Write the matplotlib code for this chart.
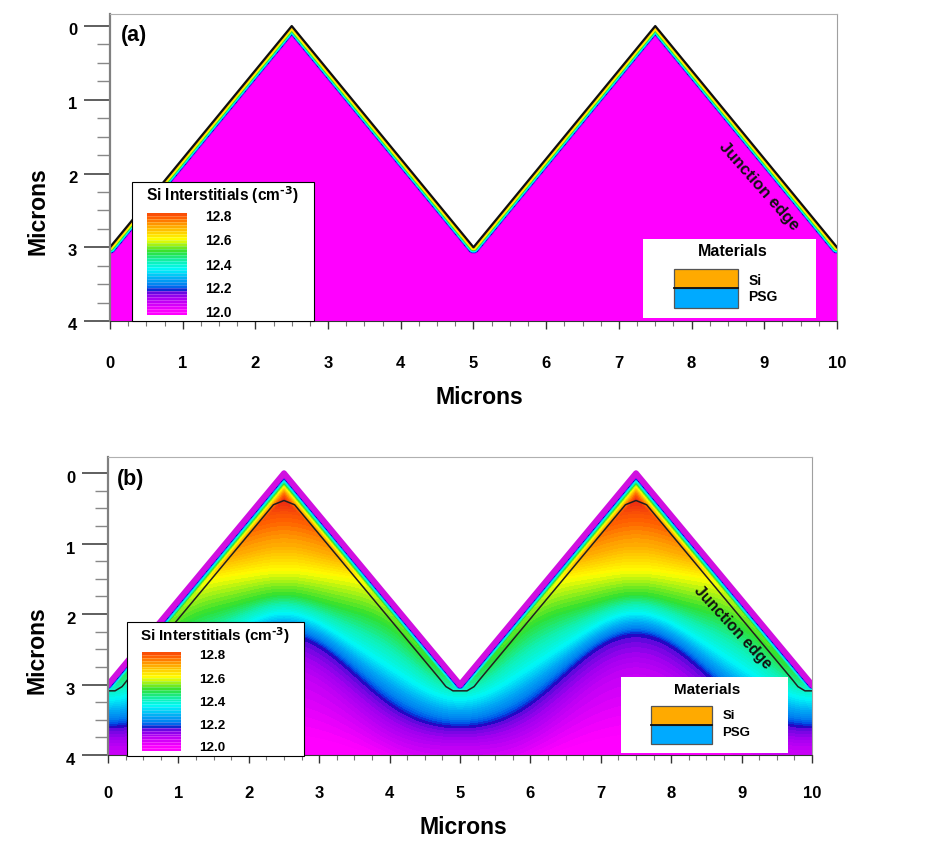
import numpy as np
import matplotlib
matplotlib.use('Agg')
from matplotlib import pyplot as plt
from matplotlib.colors import LinearSegmentedColormap
from matplotlib.patches import Rectangle
from matplotlib.transforms import ScaledTranslation

plt.rcParams['font.family'] = ['Liberation Sans', 'DejaVu Sans']
plt.rcParams['font.weight'] = 'bold'
plt.rcParams['mathtext.default'] = 'regular'

W, H = 945, 860

# surface of the textured silicon
surf_x = [0, 2.5, 5, 7.5, 10]
surf_y = [3, 0, 3, 0, 3]

# colour scale, log10 concentration
scale_vals = [12.0, 12.06, 12.12, 12.155, 12.17, 12.19, 12.22, 12.27, 12.35, 12.42, 12.5, 12.6, 12.72, 12.78, 12.85]
scale_cols = ['#FF00FF', '#D000F8', '#A000F0', '#6808E0', '#1808C0', '#0050E8', '#0080F0', '#00A8F4',
              '#00F8F8', '#10F0B0', '#30E030', '#FFFF00', '#FFA000', '#FF6000', '#F03010']
levels = np.arange(12.0, 12.851, 0.0125)
legend_ticks = ['12.8', '12.6', '12.4', '12.2', '12.0']

# (b) depth of each level, read at distances from the peak
dist_peak = [0, 0.5, 1.0, 1.5, 2.0, 2.5]
iso_vals = [12.85, 12.8, 12.7, 12.6, 12.5, 12.35, 12.17, 12.08, 12.0, 11.95]
iso_depth = [[0.45, 0.50, 0.80, 1.20, 1.70, 2.00],
             [0.60, 0.65, 0.95, 1.30, 1.80, 2.20],
             [1.05, 1.10, 1.25, 1.50, 2.00, 2.40],
             [1.38, 1.42, 1.50, 1.75, 2.25, 2.60],
             [1.72, 1.80, 1.95, 2.15, 2.60, 2.85],
             [1.98, 2.12, 2.42, 2.75, 3.05, 3.20],
             [2.30, 2.40, 2.85, 3.25, 3.50, 3.60],
             [2.80, 2.95, 3.35, 3.70, 3.85, 3.90],
             [3.70, 3.75, 3.90, 4.10, 4.30, 4.40],
             [4.60, 4.60, 4.70, 4.80, 4.90, 5.00]]

# value against distance from the surface
ramp_s_a = [0.0, 0.025, 0.04, 0.055, 0.07, 0.085]
ramp_v_a = [12.72, 12.6, 12.5, 12.35, 12.17, 12.0]
ramp_s_b = [0.0, 0.045, 0.06, 0.08, 0.105, 0.13, 0.17, 0.24]
ramp_v_b = [12.02, 12.06, 12.17, 12.35, 12.5, 12.6, 12.72, 12.85]

# (b) junction line
junc_x = [0, 0.1, 0.2, 0.28, 2.35, 2.5, 2.65, 4.72, 4.8, 4.9, 5.0,
          5.1, 5.2, 5.28, 7.35, 7.5, 7.65, 9.72, 9.8, 9.9, 10]
junc_y = [3.09, 3.09, 3.03, 2.93, 0.45, 0.39, 0.45, 2.93, 3.03, 3.09, 3.09,
          3.09, 3.03, 2.93, 0.45, 0.39, 0.45, 2.93, 3.03, 3.09, 3.09]

span = scale_vals[-1] - scale_vals[0]
cmap = LinearSegmentedColormap.from_list(
    'tsuprem', [((v - scale_vals[0]) / span, c) for v, c in zip(scale_vals, scale_cols)], N=512)
cmap.set_under('#FF00FF')
cmap.set_over('#F03010')


def surf_dist(X, Y):
    # shortest distance to the surface polyline
    best = np.full(X.shape, np.inf)
    for i in range(len(surf_x) - 1):
        x0, y0, x1, y1 = surf_x[i], surf_y[i], surf_x[i + 1], surf_y[i + 1]
        dx, dy = x1 - x0, y1 - y0
        t = np.clip(((X - x0) * dx + (Y - y0) * dy) / (dx * dx + dy * dy), 0, 1)
        best = np.minimum(best, np.hypot(X - (x0 + t * dx), Y - (y0 + t * dy)))
    return best


def make_field(panel):
    x = np.linspace(0, 10, 1000)
    y = np.linspace(-0.3, 4, 700)
    X, Y = np.meshgrid(x, y)
    s = surf_dist(X, Y)
    if panel == 'a':
        Z = np.interp(s, ramp_s_a, ramp_v_a)
    else:
        # smooth the read depths along x, peak and valley stay symmetric
        c_read = np.cos(np.pi * np.array(dist_peak) / 2.5)
        d = np.abs(x % 5 - 2.5)
        c = np.cos(np.pi * d / 2.5)
        curves = np.array([np.polyval(np.polyfit(c_read, row, 3), c) for row in iso_depth])
        bulk = np.zeros(X.shape)
        for j in range(len(x)):
            bulk[:, j] = np.interp(y, curves[:, j], iso_vals)
        Z = np.minimum(bulk, np.interp(s, ramp_s_b, ramp_v_b))
    Z[Y < np.interp(X, surf_x, surf_y)] = np.nan
    return x, y, Z


def px_axes(left, right, top, bottom):
    return fig.add_axes([left / W, 1 - bottom / H, (right - left) / W, (bottom - top) / H])


def panel(tag, box, ytop, tag_xy, xlab_xy, ylab_xy, xpad, ylab_shift, fs):
    ax = px_axes(*box)
    x, y, Z = make_field(tag)
    ax.contourf(x, y, Z, levels=levels, cmap=cmap, vmin=12.0, vmax=12.85, extend='both', antialiased=False)
    if tag == 'a':
        ax.plot(surf_x, surf_y, color='#101010', lw=1.6, solid_joinstyle='round')
    else:
        ax.plot(surf_x, surf_y, color='#D010E0', lw=4, solid_joinstyle='round')
        ax.plot(junc_x, junc_y, color='#202020', lw=1.1)
    ax.set_xlim(0, 10)
    ax.set_ylim(4, ytop)
    ax.set_xticks(range(0, 11))
    ax.set_xticks(np.arange(0, 10.01, 0.25), minor=True)
    ax.set_yticks(range(0, 5))
    ax.set_yticks(np.arange(0, 4.01, 0.25), minor=True)
    ax.tick_params(axis='x', which='major', length=6, width=1, color='#333333', pad=xpad, labelsize=fs)
    ax.tick_params(axis='x', which='minor', length=3.5, width=0.8, color='#777777')
    ax.tick_params(axis='y', which='major', length=19, width=1.1, color='#333333', pad=4.5, labelsize=fs)
    ax.tick_params(axis='y', which='minor', length=9.5, width=1, color='#888888')
    shift = ScaledTranslation(0, -ylab_shift / 100, fig.dpi_scale_trans)
    for lab in ax.get_yticklabels():
        lab.set_transform(lab.get_transform() + shift)
    ax.spines['left'].set_color('#808080')
    ax.spines['left'].set_linewidth(1.6)
    ax.spines['top'].set_color('#b0b0b0')
    ax.spines['right'].set_color('#a0a0a0')
    ax.spines['bottom'].set_color('#333333')
    ov.text(tag_xy[0], tag_xy[1], '(%s)' % tag, fontsize=15.5, ha='center', va='center')
    ov.text(xlab_xy[0], xlab_xy[1], 'Microns', fontsize=fs + 4.6, ha='center', va='center')
    ov.text(ylab_xy[0], ylab_xy[1], 'Microns', fontsize=fs + 4.6, ha='center', va='center', rotation=90)
    return ax


def conc_legend(box, strip, label_x, label_y, title_xy, fs):
    ov.add_patch(Rectangle((box[0], box[2]), box[1] - box[0], box[3] - box[2],
                           fc='white', ec='black', lw=0.8))
    ov.text(title_xy[0], title_xy[1], r'Si Interstitials (cm$^{\text{-3}}$)', fontsize=fs, ha='center', va='center')
    sa = px_axes(*strip)
    sa.set_zorder(20)
    mids = np.arange(11.98, 12.83, 0.025)
    sa.pcolormesh([0, 1], np.append(mids, 12.83 + 0.02), mids[:, None], cmap=cmap, vmin=12.0, vmax=12.85)
    sa.hlines(mids, 0, 1, color='white', lw=0.5, alpha=0.3)
    sa.set_xlim(0, 1)
    sa.set_ylim(11.98, 12.83)
    sa.axis('off')
    for t, yy in zip(legend_ticks, label_y):
        ov.text(label_x, yy, t, fontsize=fs - 1.4, ha='left', va='center')


def mat_legend(box, strip, si_xy, psg_xy, title_xy, fs):
    ov.add_patch(Rectangle((box[0], box[2]), box[1] - box[0], box[3] - box[2], fc='white', ec='none'))
    ov.text(title_xy[0], title_xy[1], 'Materials', fontsize=fs + 1, ha='center', va='center')
    ov.add_patch(Rectangle((strip[0], strip[1]), strip[3] - strip[0], strip[2] - strip[1],
                           fc='#FFAA00', ec='#555555', lw=0.9))
    ov.add_patch(Rectangle((strip[0], strip[2]), strip[3] - strip[0], strip[4] - strip[2],
                           fc='#00AAFF', ec='#555555', lw=0.9))
    ov.plot([strip[0], strip[3]], [strip[2], strip[2]], color='#111111', lw=1.3)
    ov.text(si_xy[0], si_xy[1], 'Si', fontsize=fs - 0.5, ha='left', va='center')
    ov.text(psg_xy[0], psg_xy[1], 'PSG', fontsize=fs - 0.5, ha='left', va='center')


fig = plt.figure(figsize=(W / 100, H / 100), dpi=100)
ov = fig.add_axes([0, 0, 1, 1])
ov.set_xlim(0, W)
ov.set_ylim(H, 0)
ov.axis('off')
ov.set_zorder(10)

panel('a', (110, 837, 14, 321), -0.163, (134, 35), (479, 397), (38, 211), 19, 3, 12)
panel('b', (108, 812, 457, 755), -0.227, (131, 479), (463, 828), (37, 650), 16.5, 4, 12)

conc_legend((132, 314, 182, 321), (147, 187, 213, 315), 205, [217, 241, 266, 289, 313], (222, 195), 11.2)
conc_legend((127, 304, 622, 756), (142, 181, 652, 751), 199, [656, 680, 703, 726, 748], (215, 635), 11)
mat_legend((643, 816, 239, 318), (674, 269, 288, 738, 308), (749, 281), (748, 297), (733, 252), 10.5)
mat_legend((621, 788, 677, 753), (651, 706, 725, 712, 744), (723, 716), (722, 733), (707, 690), 10)

ov.text(759, 186, 'Junction edge', fontsize=12, rotation=-48.5, ha='center', va='center', color='#111111',
        rotation_mode='anchor')
ov.text(733, 627, 'Junction edge', fontsize=11.3, rotation=-47.5, ha='center', va='center', color='#111111',
        rotation_mode='anchor')

fig.savefig('out.png', dpi=100)
